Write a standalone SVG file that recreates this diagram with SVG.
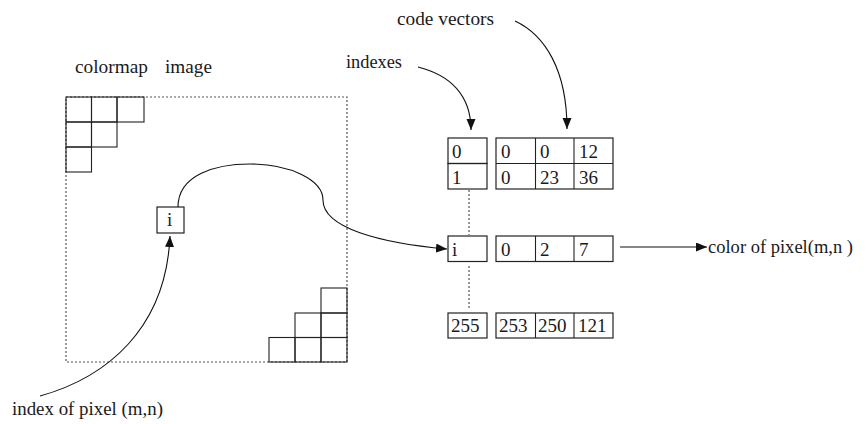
<svg xmlns="http://www.w3.org/2000/svg" width="866" height="424" viewBox="0 0 866 424" font-family="'Liberation Serif', 'Times New Roman', 'DejaVu Serif', serif">
<defs>
<style>
text{font-family:'Liberation Serif','Times New Roman','DejaVu Serif',serif;font-size:18px;fill:#1a1a1a}
.t{font-size:19px}
.box{fill:none;stroke:#222;stroke-width:1.2}
.cell{fill:none;stroke:#222;stroke-width:1.1}
.dot{fill:none;stroke:#555;stroke-width:1.2;stroke-dasharray:2 2}
.conn{fill:none;stroke:#111;stroke-width:1.1}
</style>
<marker id="ah" markerUnits="userSpaceOnUse" markerWidth="12" markerHeight="10" refX="11" refY="4.5" orient="auto">
<path d="M0,0 L11,4.5 L0,9 z" fill="#111"/>
</marker>
</defs>
<rect width="866" height="424" fill="#fff"/>

<g id="labels">
<text x="75" y="73" textLength="73" lengthAdjust="spacingAndGlyphs">colormap</text>
<text x="165" y="73" textLength="47" lengthAdjust="spacingAndGlyphs">image</text>
<text x="397" y="25" textLength="97" lengthAdjust="spacingAndGlyphs">code vectors</text>
<text x="346" y="68" textLength="56" lengthAdjust="spacingAndGlyphs">indexes</text>
<text x="12" y="415" textLength="151" lengthAdjust="spacingAndGlyphs">index of pixel (m,n)</text>
<text x="708" y="253" textLength="145" lengthAdjust="spacingAndGlyphs">color of pixel(m,n )</text>
</g>

<g id="image">
<rect class="dot" x="66" y="97" width="281" height="265"/>
<g id="colormap-top">
<rect class="cell" x="66" y="97" width="25.5" height="25"/>
<rect class="cell" x="91.5" y="97" width="25.5" height="25"/>
<rect class="cell" x="117" y="97" width="27" height="25"/>
<rect class="cell" x="66" y="122" width="25.5" height="25"/>
<rect class="cell" x="91.5" y="122" width="25.5" height="25"/>
<rect class="cell" x="66" y="147" width="25.5" height="25"/>
</g>
<g id="colormap-bottom">
<rect class="cell" x="321" y="288" width="26" height="25"/>
<rect class="cell" x="295" y="313" width="26" height="24.5"/>
<rect class="cell" x="321" y="313" width="26" height="24.5"/>
<rect class="cell" x="269" y="337.5" width="26" height="24.5"/>
<rect class="cell" x="295" y="337.5" width="26" height="24.5"/>
<rect class="cell" x="321" y="337.5" width="26" height="24.5"/>
</g>
</g>

<g id="pixel-i">
<rect class="box" x="157" y="207" width="27" height="26"/>
<text class="t" x="167" y="226">i</text>
</g>

<g id="index-table">
<rect class="box" x="448" y="138" width="39" height="25.5"/>
<rect class="box" x="448" y="163.5" width="39" height="25.5"/>
<text class="t" x="452" y="158">0</text>
<text class="t" x="452" y="184">1</text>
<rect class="box" x="448" y="236" width="39" height="25.5"/>
<text class="t" x="452" y="256">i</text>
<rect class="box" x="448" y="313" width="39" height="25"/>
<text class="t" x="451" y="332">255</text>
</g>

<g id="code-table">
<rect class="box" x="496" y="138" width="117" height="51"/>
<line class="cell" x1="496" y1="163.5" x2="613" y2="163.5"/>
<line class="cell" x1="535.5" y1="138" x2="535.5" y2="189"/>
<line class="cell" x1="574" y1="138" x2="574" y2="189"/>
<text class="t" x="501" y="158">0</text>
<text class="t" x="540" y="158">0</text>
<text class="t" x="579" y="158">12</text>
<text class="t" x="501" y="184">0</text>
<text class="t" x="540" y="184">23</text>
<text class="t" x="579" y="184">36</text>
<rect class="box" x="496" y="236" width="117" height="25.5"/>
<line class="cell" x1="535.5" y1="236" x2="535.5" y2="261.5"/>
<line class="cell" x1="574" y1="236" x2="574" y2="261.5"/>
<text class="t" x="501" y="256">0</text>
<text class="t" x="540" y="256">2</text>
<text class="t" x="579" y="256">7</text>
<rect class="box" x="496" y="313" width="117" height="25"/>
<line class="cell" x1="535.5" y1="313" x2="535.5" y2="338"/>
<line class="cell" x1="574" y1="313" x2="574" y2="338"/>
<text class="t" x="499" y="332">253</text>
<text class="t" x="538" y="332">250</text>
<text class="t" x="578" y="332">121</text>
</g>

<g id="connectors">
<line class="dot" x1="469" y1="190" x2="469" y2="235"/>
<line class="dot" x1="469" y1="266" x2="469" y2="310"/>
<path class="conn" d="M178,207 C178,175 215,164 250,164 C290,164 323,180 323,200 C323,228 380,243 447,249" marker-end="url(#ah)"/>
<path class="conn" d="M40,396 C105,378 166,330 170,236" marker-end="url(#ah)"/>
<path class="conn" d="M418,67 C450,75 471,95 471,130" marker-end="url(#ah)"/>
<path class="conn" d="M515,21 C545,35 567,70 567,129" marker-end="url(#ah)"/>
<line class="conn" x1="620" y1="247" x2="707" y2="247" marker-end="url(#ah)"/>
</g>
</svg>
